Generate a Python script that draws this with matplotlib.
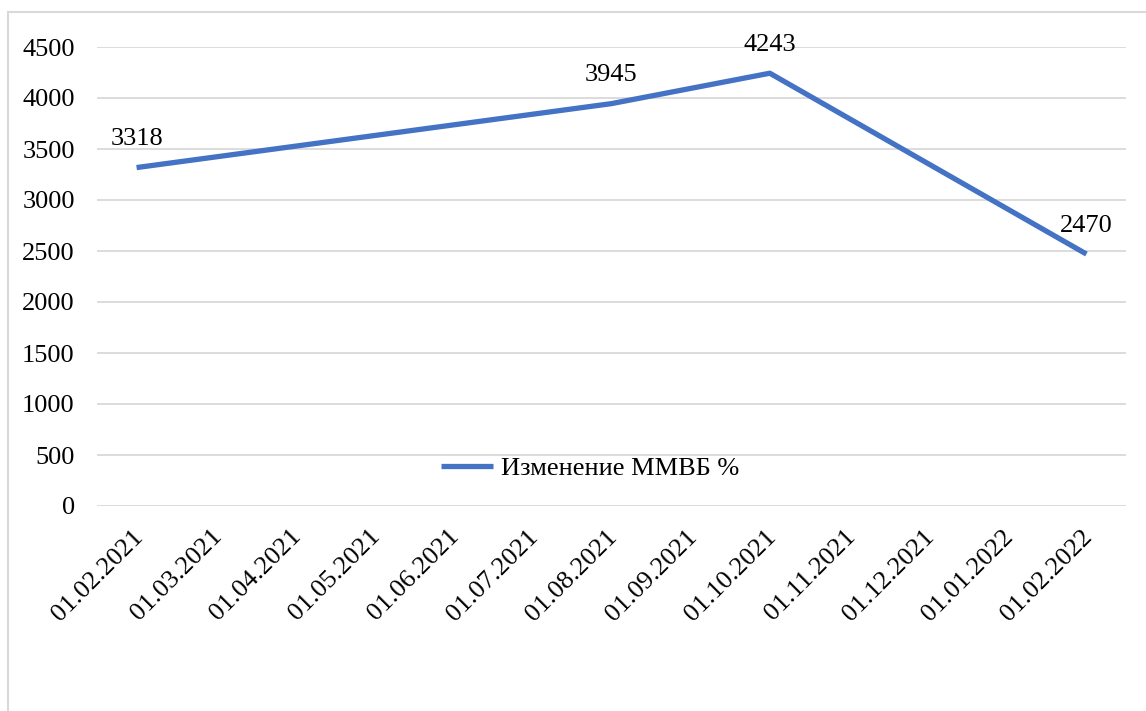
import matplotlib.pyplot as plt
from matplotlib.patches import Rectangle
from matplotlib.transforms import ScaledTranslation

dates = ['01.02.2021', '01.03.2021', '01.04.2021', '01.05.2021', '01.06.2021',
         '01.07.2021', '01.08.2021', '01.09.2021', '01.10.2021', '01.11.2021',
         '01.12.2021', '01.01.2022', '01.02.2022']
point_dates = ['01.02.2021', '01.08.2021', '01.10.2021', '01.02.2022']
point_values = [3318, 3945, 4243, 2470]
series_name = 'Изменение ММВБ %'

plt.rcParams['font.family'] = ['Liberation Serif', 'DejaVu Serif']

fig = plt.figure(figsize=(11.46, 7.11), dpi=100)
W, H = 1146, 711
ax = fig.add_axes([97 / W, 1 - 506 / H, (1126 - 97) / W, (506 - 47) / H])

# light frame around the chart
fig.patches.append(Rectangle((8 / W, -0.05), 1.2, 1 - 12 / H + 0.05, transform=fig.transFigure,
                             fill=False, edgecolor='#d9d9d9', linewidth=1.5))

xs = [dates.index(d) for d in point_dates]
line, = ax.plot(xs, point_values, color='#4472C4', linewidth=3.8, solid_capstyle='butt',
                label=series_name)

for x, v in zip(xs, point_values):
    ax.annotate(str(v), (x, v), xytext=(0, 16), textcoords='offset points',
                ha='center', va='baseline', fontsize=19)

ax.set_xlim(-0.5, len(dates) - 0.5)
ax.set_ylim(0, 4500)
ax.set_yticks(range(0, 4501, 500))
ax.set_xticks(range(len(dates)))
ax.set_xticklabels(dates, rotation=45, ha='right', va='top', rotation_mode='anchor')
ax.tick_params(axis='both', length=0, labelsize=19)
ax.tick_params(axis='y', pad=16)
ax.tick_params(axis='x', pad=14)
shift = ScaledTranslation(-5 / 100, 0, fig.dpi_scale_trans)
for lbl in ax.get_xticklabels():
    lbl.set_transform(lbl.get_transform() + shift)
ax.grid(axis='y', color='#d9d9d9', linewidth=1.3)
ax.set_axisbelow(True)
for s in ax.spines.values():
    s.set_visible(False)

ax.legend(handles=[line], loc='center', bbox_to_anchor=(590 / W, 1 - 468 / H),
          bbox_transform=fig.transFigure, frameon=False, fontsize=19,
          handlelength=2.0, handletextpad=0.3)

fig.savefig('out.png', dpi=100)
